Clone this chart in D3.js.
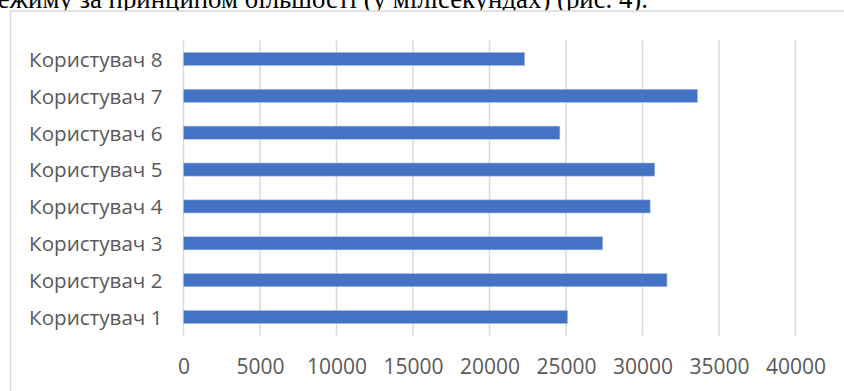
<!DOCTYPE html>
<html>
<head>
<meta charset="utf-8">
<script src="https://cdn.jsdelivr.net/npm/d3@7"></script>
<style>
  html, body { margin: 0; padding: 0; background: #fff; overflow: hidden; }
  svg { display: block; }
</style>
</head>
<body>
<svg id="chart" width="844" height="391"></svg>
<script>
// Data
const categories = ["Користувач 1", "Користувач 2", "Користувач 3", "Користувач 4",
                    "Користувач 5", "Користувач 6", "Користувач 7", "Користувач 8"];
const values = [25100, 31600, 27400, 30500, 30800, 24600, 33600, 22300];
const tickValues = [0, 5000, 10000, 15000, 20000, 25000, 30000, 35000, 40000];
const captionText = "ежиму за принципом більшості (у мілісекундах) (рис. 4).";

const svg = d3.select("#chart");

// Caption text from the document above the chart (cut off at top)
svg.append("text")
  .attr("x", 648)
  .attr("y", 7.5)
  .attr("text-anchor", "end")
  .attr("font-family", "'Liberation Serif', 'Times New Roman', serif")
  .attr("font-size", 26.8)
  .attr("fill", "#000")
  .text(captionText);

// Chart area border
svg.append("rect")
  .attr("x", 10.5).attr("y", 11)
  .attr("width", 860).attr("height", 420)
  .attr("fill", "#fff")
  .attr("stroke", "#d9d9d9")
  .attr("stroke-width", 1.5);

const x = d3.scaleLinear().domain([0, 40000]).range([183.5, 795.5]);
const y = d3.scaleBand()
  .domain(categories.slice().reverse())
  .range([40.5, 335.5])
  .paddingInner(0.645)
  .paddingOuter(0.3225);

// Gridlines
svg.append("g")
  .selectAll("line")
  .data(tickValues)
  .join("line")
  .attr("x1", d => x(d)).attr("x2", d => x(d))
  .attr("y1", 40.5).attr("y2", 335.5)
  .attr("stroke", "#d9d9d9")
  .attr("stroke-width", 1.5);

// Bars
svg.append("g")
  .selectAll("rect")
  .data(categories.map((c, i) => ({c, v: values[i]})))
  .join("rect")
  .attr("x", x(0))
  .attr("y", d => y(d.c))
  .attr("width", d => x(d.v) - x(0))
  .attr("height", y.bandwidth())
  .attr("fill", "#4472c4")
  .attr("stroke", "#a9bde3")
  .attr("stroke-width", 0.6);

// Category axis
const yAxis = svg.append("g")
  .attr("transform", "translate(183.5,0)")
  .call(d3.axisLeft(y).tickSize(0).tickPadding(21));
yAxis.select(".domain").remove();
yAxis.selectAll("text")
  .attr("font-family", "'Open Sans', sans-serif")
  .attr("font-size", 20.6)
  .attr("fill", "#595959")
  .attr("dy", "0.38em");

// Value axis labels
const xAxis = svg.append("g")
  .attr("transform", "translate(0,335.5)")
  .call(d3.axisBottom(x).tickValues(tickValues).tickSize(0).tickPadding(24).tickFormat(d3.format("d")));
xAxis.select(".domain").remove();
xAxis.selectAll("text")
  .attr("font-family", "'Open Sans', sans-serif")
  .attr("font-size", 21)
  .attr("fill", "#595959");
</script>
</body>
</html>
